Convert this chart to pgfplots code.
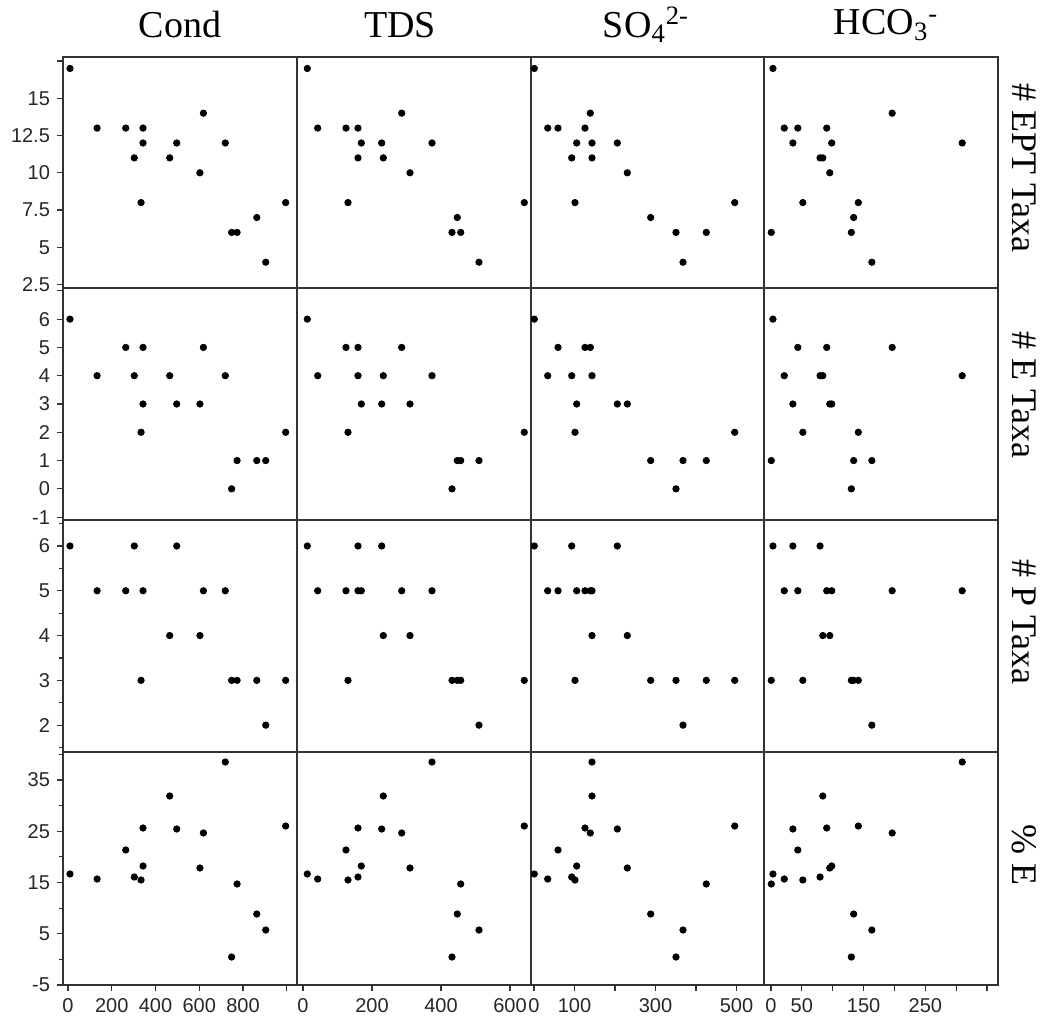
\documentclass[border=0pt]{standalone}
\usepackage{fontspec}
\setmainfont{Liberation Serif}
\setsansfont{Liberation Sans}
\usepackage{pgfplots}
\pgfplotsset{compat=1.18}
\pgfplotsset{
  panel/.style={scale only axis, anchor=north west, clip=false,
    axis line style={line width=0.9pt, black!80},
    xtick=\empty, ytick=\empty, tick align=outside,
    major tick length=3pt, minor tick length=2pt,
    tick style={line width=0.6pt, black!80},
    xtick pos=lower, ytick pos=left,
    every tick label/.append style={font=\fontsize{10}{12}\sffamily, text=black!85},
    /pgf/number format/assume math mode=true,
    every axis plot post/.append style={only marks, mark=*, mark size=1.6pt, black, mark options={fill=black, draw=black}}},
  c1/.style={xmin=-22.86, xmax=1046.86, width=117pt},
  c2/.style={xmin=-17.39, xmax=660.87, width=117pt},
  c3/.style={xmin=-7.41, xmax=567.9, width=116.5pt},
  c4/.style={xmin=-11.29, xmax=367.74, width=117pt},
  r1/.style={ymin=2.27, ymax=17.77, height=115.5pt},
  r2/.style={ymin=-1.1, ymax=7.1, height=116pt},
  r3/.style={ymin=1.40, ymax=6.58, height=116pt},
  r4/.style={ymin=-5, ymax=40.46, height=116.5pt},
  y1/.style={ytick={2.5,5,7.5,10,12.5,15,17.5}, yticklabels={2.5,5,7.5,10,12.5,15,{}}},
  y2/.style={ytick={-1,0,1,2,3,4,5,6,7}, yticklabels={-1,0,1,2,3,4,5,6,{}}},
  y3/.style={ytick={2,3,4,5,6}, yticklabels={2,3,4,5,6}, minor ytick={1.5,2.5,3.5,4.5,5.5,6.5}},
  y4/.style={ytick={-5,5,15,25,35}, yticklabels={-5,5,15,25,35}, minor ytick={0,10,20,30,40}},
  x1/.style={xtick={0,200,400,600,800,1000}, xticklabels={0,200,400,600,800,{}}},
  x2/.style={xtick={0,200,400,600}, xticklabels={0,200,400,600}},
  x3/.style={xtick={0,100,200,300,400,500}, xticklabels={0,100,{},300,{},500}},
  x4/.style={xtick={0,50,100,150,200,250,300,350}, xticklabels={0,50,{},150,{},250,{},{}}},
}
\begin{document}
\begin{tikzpicture}
\path[use as bounding box] (0,0) rectangle (524pt,-510.5pt);
% ---------------- Row 1: # EPT Taxa
\begin{axis}[panel, c1, r1, y1, at={(31.5pt,-28.5pt)}]
\addplot coordinates {(9,17)(133,13)(264,13)(343,13)(343,12)(303,11)(334,8)(465,11)(497,12)(603,10)(619,14)(719,12)(748,6)(773,6)(863,7)(904,4)(995,8)};
\end{axis}
\begin{axis}[panel, c2, r1, at={(148.5pt,-28.5pt)}]
\addplot coordinates {(12.5,17)(42.6,13)(124.6,13)(159.4,13)(286.1,14)(169,12)(228.1,12)(373.9,12)(159.4,11)(232.8,11)(310.1,10)(130.4,8)(641.4,8)(447.2,7)(431.9,6)(457.1,6)(510.1,4)};
\end{axis}
\begin{axis}[panel, c3, r1, at={(265.5pt,-28.5pt)}]
\addplot coordinates {(0.7,17)(33.8,13)(59.3,13)(125.9,13)(139,14)(105.4,12)(143.2,12)(205.7,12)(93.1,11)(143.2,11)(230.4,10)(101.2,8)(495.6,8)(288.1,7)(350.6,6)(425.4,6)(367.9,4)};
\end{axis}
\begin{axis}[panel, c4, r1, at={(382pt,-28.5pt)}]
\addplot coordinates {(3.2,17)(196.3,14)(21.5,13)(43.5,13)(90.3,13)(35.5,12)(98.4,12)(309.7,12)(79.5,11)(83.9,11)(95.2,10)(51.6,8)(141.5,8)(133.9,7)(0.5,6)(130.2,6)(163.4,4)};
\end{axis}
% ---------------- Row 2: # E Taxa
\begin{axis}[panel, c1, r2, y2, at={(31.5pt,-144pt)}]
\addplot coordinates {(9,6)(133,4)(264,5)(343,5)(303,4)(343,3)(334,2)(465,4)(497,3)(603,3)(619,5)(719,4)(748,0)(773,1)(863,1)(904,1)(995,2)};
\end{axis}
\begin{axis}[panel, c2, r2, at={(148.5pt,-144pt)}]
\addplot coordinates {(12.5,6)(124.6,5)(159.4,5)(286.1,5)(42.6,4)(159.4,4)(232.8,4)(373.9,4)(169,3)(228.1,3)(310.1,3)(130.4,2)(641.4,2)(447.2,1)(457.1,1)(510.1,1)(431.9,0)};
\end{axis}
\begin{axis}[panel, c3, r2, at={(265.5pt,-144pt)}]
\addplot coordinates {(0.7,6)(59.3,5)(125.9,5)(139,5)(33.8,4)(93.1,4)(143.2,4)(105.4,3)(205.7,3)(230.4,3)(101.2,2)(495.6,2)(288.1,1)(367.9,1)(425.4,1)(350.6,0)};
\end{axis}
\begin{axis}[panel, c4, r2, at={(382pt,-144pt)}]
\addplot coordinates {(3.2,6)(43.5,5)(90.3,5)(196.3,5)(21.5,4)(79.5,4)(83.9,4)(309.7,4)(35.5,3)(95.2,3)(98.4,3)(51.6,2)(141.5,2)(0.5,1)(133.9,1)(163.4,1)(130.2,0)};
\end{axis}
% ---------------- Row 3: # P Taxa
\begin{axis}[panel, c1, r3, y3, at={(31.5pt,-260pt)}]
\addplot coordinates {(9,6)(133,5)(264,5)(303,6)(343,5)(334,3)(465,4)(497,6)(603,4)(619,5)(719,5)(748,3)(773,3)(863,3)(904,2)(995,3)};
\end{axis}
\begin{axis}[panel, c2, r3, at={(148.5pt,-260pt)}]
\addplot coordinates {(12.5,6)(159.4,6)(228.1,6)(42.6,5)(124.6,5)(159.4,5)(169,5)(286.1,5)(373.9,5)(232.8,4)(310.1,4)(130.4,3)(431.9,3)(447.2,3)(457.1,3)(641.4,3)(510.1,2)};
\end{axis}
\begin{axis}[panel, c3, r3, at={(265.5pt,-260pt)}]
\addplot coordinates {(0.7,6)(93.1,6)(205.7,6)(33.8,5)(59.3,5)(105.4,5)(125.9,5)(139,5)(143.2,5)(143.2,4)(230.4,4)(101.2,3)(288.1,3)(350.6,3)(425.4,3)(495.6,3)(367.9,2)};
\end{axis}
\begin{axis}[panel, c4, r3, at={(382pt,-260pt)}]
\addplot coordinates {(3.2,6)(35.5,6)(79.5,6)(21.5,5)(43.5,5)(90.3,5)(98.4,5)(196.3,5)(309.7,5)(83.9,4)(95.2,4)(0.5,3)(51.6,3)(130.2,3)(141.5,3)(133.9,3)(163.4,2)};
\end{axis}
% ---------------- Row 4: % E
\begin{axis}[panel, c1, r4, y4, x1, at={(31.5pt,-376pt)}]
\addplot coordinates {(9,16.66)(133,15.68)(264,21.34)(343,25.63)(343,18.22)(303,16.07)(334,15.49)(465,31.88)(497,25.44)(603,17.83)(619,24.66)(719,38.51)(748,0.46)(773,14.71)(863,8.85)(904,5.73)(995,26.02)};
\end{axis}
\begin{axis}[panel, c2, r4, x2, at={(148.5pt,-376pt)}]
\addplot coordinates {(12.5,16.66)(42.6,15.68)(124.6,21.34)(159.4,25.63)(169,18.22)(159.4,16.07)(130.4,15.49)(232.8,31.88)(228.1,25.44)(310.1,17.83)(286.1,24.66)(373.9,38.51)(431.9,0.46)(457.1,14.71)(447.2,8.85)(510.1,5.73)(641.4,26.02)};
\end{axis}
\begin{axis}[panel, c3, r4, x3, at={(265.5pt,-376pt)}]
\addplot coordinates {(0.7,16.66)(33.8,15.68)(59.3,21.34)(125.9,25.63)(105.4,18.22)(93.1,16.07)(101.2,15.49)(143.2,31.88)(205.7,25.44)(230.4,17.83)(139,24.66)(143.2,38.51)(350.6,0.46)(425.4,14.71)(288.1,8.85)(367.9,5.73)(495.6,26.02)};
\end{axis}
\begin{axis}[panel, c4, r4, x4, at={(382pt,-376pt)}]
\addplot coordinates {(3.2,16.66)(21.5,15.68)(43.5,21.34)(90.3,25.63)(98.4,18.22)(79.5,16.07)(51.6,15.49)(83.9,31.88)(35.5,25.44)(95.2,17.83)(196.3,24.66)(309.7,38.51)(130.2,0.46)(0.5,14.71)(133.9,8.85)(163.4,5.73)(141.5,26.02)};
\end{axis}
% ---------------- titles
\begin{scope}[every node/.style={font=\fontsize{19}{22}\selectfont, inner sep=0pt}]
\node at (90pt,-12.5pt) {Cond};
\node at (200pt,-12.5pt) {TDS};
\node at (323pt,-12.5pt) {SO\textsubscript{4}\textsuperscript{2-}};
\node at (443pt,-12.5pt) {HCO\textsubscript{3}\textsuperscript{-}};
\end{scope}
\begin{scope}[every node/.style={font=\fontsize{18}{21}\selectfont, inner sep=0pt, rotate=-90}]
\node at (512pt,-84pt) {\# EPT Taxa};
\node at (512pt,-197.5pt) {\# E Taxa};
\node at (512pt,-311pt) {\# P Taxa};
\node at (512pt,-427.5pt) {\% E};
\end{scope}
\end{tikzpicture}
\end{document}
